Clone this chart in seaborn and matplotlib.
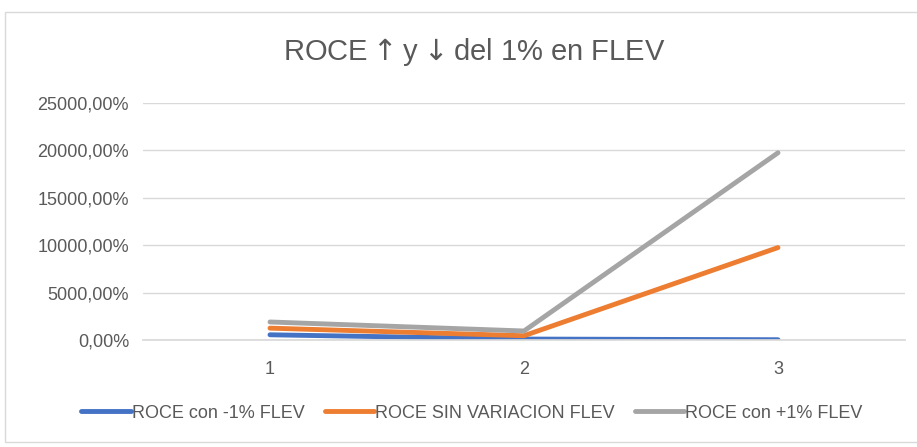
import numpy as np
import pandas as pd
import matplotlib
matplotlib.use("Agg")
import matplotlib.pyplot as plt
import seaborn as sns
from matplotlib.ticker import FuncFormatter
from matplotlib.patches import Rectangle

periodos = [1, 2, 3]
roce_menos = [550, 100, 30]
roce_sin = [1250, 450, 9750]
roce_mas = [1900, 950, 19750]
series = ["ROCE con -1% FLEV", "ROCE SIN VARIACION FLEV", "ROCE con +1% FLEV"]
colores = ["#4472C4", "#ED7D31", "#A5A5A5"]

df = pd.DataFrame({"Periodo": periodos * 3,
                   "ROCE": roce_menos + roce_sin + roce_mas,
                   "Serie": [series[0]] * 3 + [series[1]] * 3 + [series[2]] * 3})
df["pos"] = df["Periodo"] - 1

sns.set_theme(style="white")
plt.rcParams['font.family'] = ['Liberation Sans', 'DejaVu Sans']

fig = plt.figure(figsize=(9.17, 4.47), dpi=100)
ax = fig.add_axes([143 / 917, 1 - 340 / 447, (905 - 143) / 917, (340 - 103) / 447])

sns.lineplot(data=df, x="pos", y="ROCE", hue="Serie", palette=colores,
             linewidth=3.5, ax=ax, legend=False, solid_capstyle="round")

ax.set_xlim(-0.5, 2.5)
ax.set_ylim(0, 25000)
ax.set_yticks(np.arange(0, 25001, 5000))
ax.set_xticks([0, 1, 2])
ax.set_xticklabels([str(p) for p in periodos])
ax.yaxis.set_major_formatter(FuncFormatter(lambda v, p: f"{v:.2f}".replace(".", ",") + "%"))
ax.grid(axis="y", color="#D9D9D9", linewidth=1)
ax.set_axisbelow(True)
for s in ["top", "right", "left"]:
    ax.spines[s].set_visible(False)
ax.spines["bottom"].set_color("#D9D9D9")
ax.tick_params(axis="both", length=0, labelsize=13, labelcolor="#595959")
ax.tick_params(axis="y", pad=10)
ax.tick_params(axis="x", pad=15)
ax.set_xlabel("")
ax.set_ylabel("")

fig.text(474 / 917, 1 - 52 / 447, r"ROCE$\uparrow$y$\downarrow$del 1% en FLEV", ha="center", va="center",
         fontsize=21, color="#595959")

handles = [plt.Line2D([0], [0], color=c, lw=3.5) for c in colores]
fig.legend(handles, series, loc="center", bbox_to_anchor=(472 / 917, 1 - 413 / 447), ncol=3,
           frameon=False, fontsize=13, labelcolor="#595959", handlelength=2.75,
           handletextpad=0.05, columnspacing=1.1)

# borde del grafico (el lado derecho queda fuera de la imagen)
fig.patches.append(Rectangle((5 / 917, 1 - 442 / 447), 930 / 917, 430 / 447,
                             transform=fig.transFigure, fill=False,
                             edgecolor="#D9D9D9", linewidth=1))

fig.savefig("out.png", dpi=100)
